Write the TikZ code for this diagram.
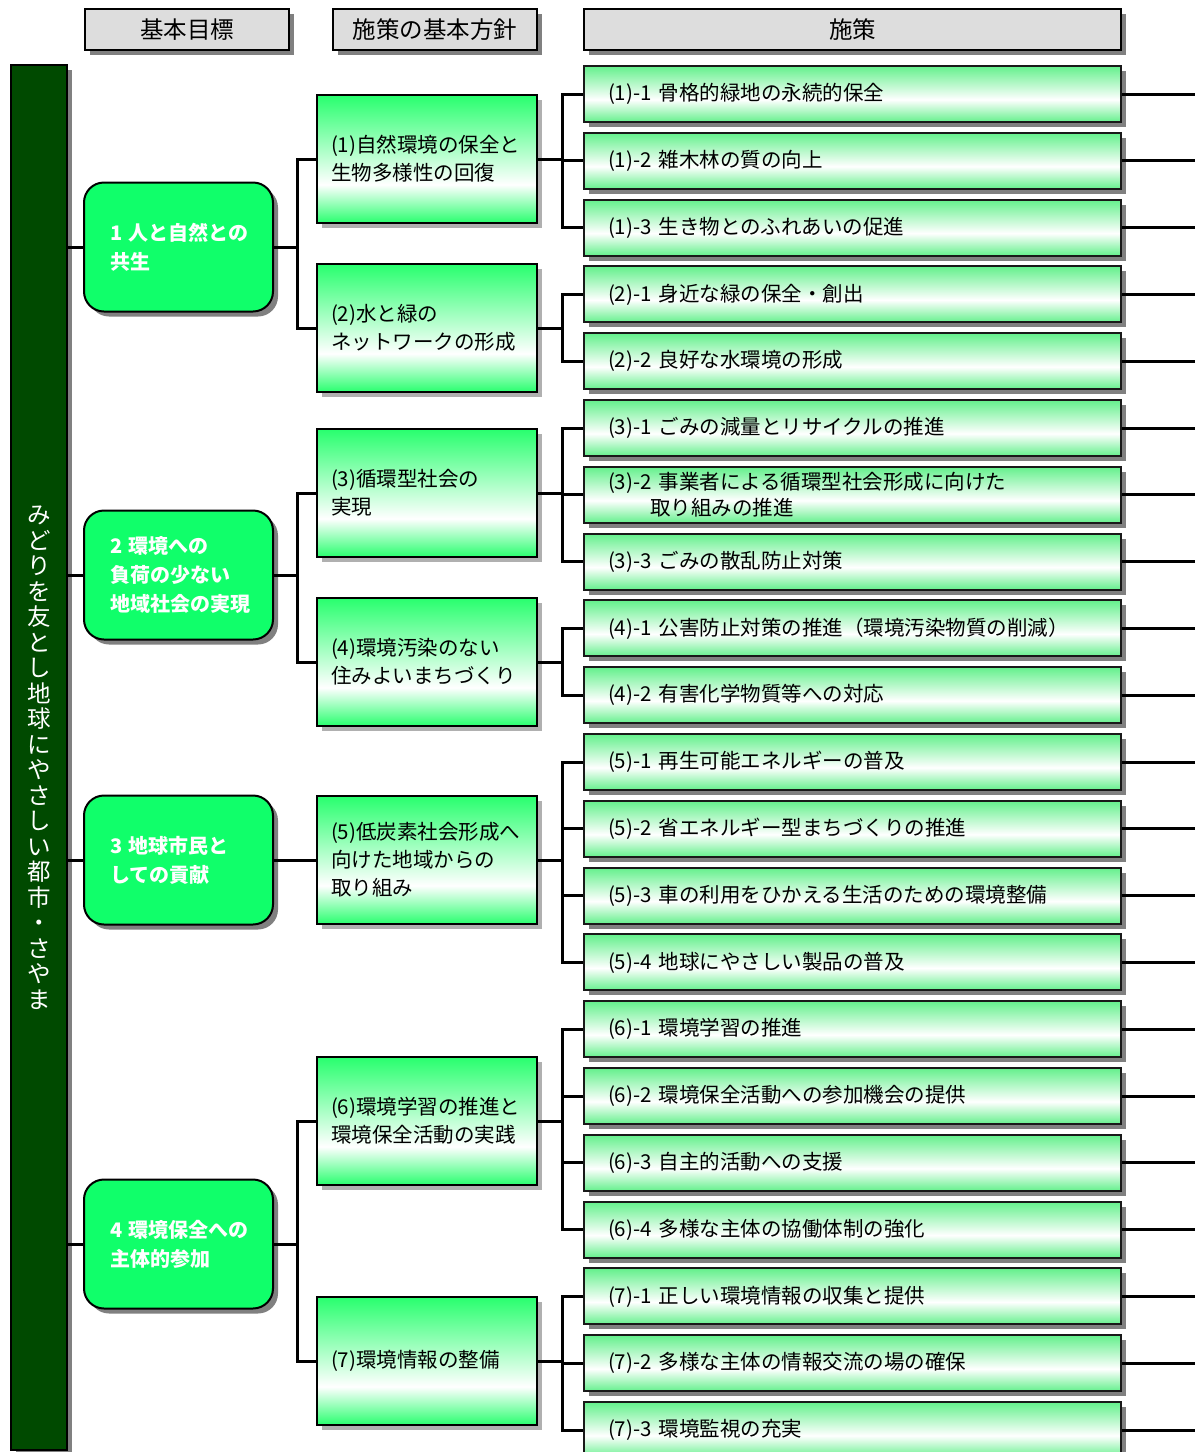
\documentclass[tikz,border=0pt]{standalone}
\usepackage{fontspec}
\setmainfont{Noto Sans CJK JP}
\usetikzlibrary{shadows,calc}
\definecolor{hdrgray}{RGB}{221,221,221}
\definecolor{shadowgray}{RGB}{128,128,128}
\definecolor{polshadow}{RGB}{176,176,176}
\definecolor{bargreen}{RGB}{0,74,0}
\definecolor{goalgreen}{RGB}{16,255,106}
\definecolor{polg}{RGB}{40,255,110}
\definecolor{meag}{RGB}{100,240,140}
\pgfdeclareverticalshading{polshade}{100bp}{color(0bp)=(polg); color(25bp)=(polg); color(40bp)=(white); color(75bp)=(polg); color(100bp)=(polg)}
\pgfdeclareverticalshading{meashade}{100bp}{color(0bp)=(meag); color(25bp)=(meag); color(45bp)=(white); color(75bp)=(meag); color(100bp)=(meag)}
\tikzset{
  conn/.style={line width=3pt, draw=black},
  shad/.style={drop shadow={shadow xshift=5pt, shadow yshift=-5pt, fill=shadowgray, opacity=1}},
  lshad/.style={drop shadow={shadow xshift=5pt, shadow yshift=-5pt, fill=polshadow, opacity=1}},
  hdr/.style={draw=black, line width=2pt, fill=hdrgray, minimum height=41pt, inner sep=0pt,
    font=\fontsize{23.5}{26}\selectfont, shad},
  bar/.style={draw=black, line width=2pt, fill=bargreen, minimum width=56pt, minimum height=1385pt, inner sep=0pt, shad},
  bartext/.style={text=white, align=center, inner sep=0pt, font=\fontsize{23.5}{25.5}\selectfont},
  goal/.style={draw=black, line width=2pt, fill=goalgreen, rounded corners=20pt, minimum height=129pt,
    text width=137pt, inner xsep=26pt, align=left, text=white,
    font=\fontsize{20}{29}\selectfont\bfseries, shad},
  pol/.style={draw=black, line width=2pt, shading=polshade, minimum height=128pt,
    text width=192pt, inner xsep=14pt, align=left, font=\fontsize{20.5}{28}\selectfont, lshad},
  mea/.style={draw=black!90, line width=2pt, shading=meashade, minimum height=56pt,
    text width=489pt, inner xsep=24pt, align=left, font=\fontsize{20.5}{26}\selectfont, shad},
}
\begin{document}
\begin{tikzpicture}[x=1pt,y=-1pt]
\useasboundingbox (0,0) rectangle (1197,1452);
% headers
\node[hdr, minimum width=204pt] (h1) at (187,29.5) {基本目標};
\node[hdr, minimum width=204pt] (h2) at (435,29.5) {施策の基本方針};
\node[hdr, minimum width=537pt] (h3) at (852.5,29.5) {施策};
% left bar
\node[bar] (bar) at (39,757.5) {};
\node[bartext] (bart) at (bar.center) {み\\ど\\り\\を\\友\\と\\し\\地\\球\\に\\や\\さ\\し\\い\\都\\市\\・\\さ\\や\\ま};
% goals
\node[goal] (g1) at (178.5,247) {1~人と自然との\\共生};
\node[goal] (g2) at (178.5,575) {2~環境への\\負荷の少ない\\地域社会の実現};
\node[goal] (g3) at (178.5,860) {3~地球市民と\\しての貢献};
\node[goal] (g4) at (178.5,1244) {4~環境保全への\\主体的参加};
% policies
\node[pol] (p1) at (427,159) {(1)自然環境の保全と\\生物多様性の回復};
\node[pol] (p2) at (427,328) {(2)水と緑の\\ネットワークの形成};
\node[pol] (p3) at (427,493) {(3)循環型社会の\\実現};
\node[pol] (p4) at (427,662) {(4)環境汚染のない\\住みよいまちづくり};
\node[pol] (p5) at (427,860) {(5)低炭素社会形成へ\\向けた地域からの\\取り組み};
\node[pol] (p6) at (427,1121) {(6)環境学習の推進と\\環境保全活動の実践};
\node[pol] (p7) at (427,1361) {(7)環境情報の整備};
% measures
\node[mea] (m1) at (852.5,94) {(1)-1 骨格的緑地の永続的保全};
\node[mea] (m2) at (852.5,160.8) {(1)-2 雑木林の質の向上};
\node[mea] (m3) at (852.5,227.6) {(1)-3 生き物とのふれあいの促進};
\node[mea] (m4) at (852.5,294.4) {(2)-1 身近な緑の保全・創出};
\node[mea] (m5) at (852.5,361.2) {(2)-2 良好な水環境の形成};
\node[mea] (m6) at (852.5,428) {(3)-1 ごみの減量とリサイクルの推進};
\node[mea] (m7) at (852.5,494.8) {(3)-2 事業者による循環型社会形成に向けた\\\hspace*{42pt}取り組みの推進};
\node[mea] (m8) at (852.5,561.6) {(3)-3 ごみの散乱防止対策};
\node[mea] (m9) at (852.5,628.4) {(4)-1 公害防止対策の推進（環境汚染物質の削減）};
\node[mea] (m10) at (852.5,695.2) {(4)-2 有害化学物質等への対応};
\node[mea] (m11) at (852.5,762) {(5)-1 再生可能エネルギーの普及};
\node[mea] (m12) at (852.5,828.8) {(5)-2 省エネルギー型まちづくりの推進};
\node[mea] (m13) at (852.5,895.6) {(5)-3 車の利用をひかえる生活のための環境整備};
\node[mea] (m14) at (852.5,962.4) {(5)-4 地球にやさしい製品の普及};
\node[mea] (m15) at (852.5,1029.2) {(6)-1 環境学習の推進};
\node[mea] (m16) at (852.5,1096) {(6)-2 環境保全活動への参加機会の提供};
\node[mea] (m17) at (852.5,1162.8) {(6)-3 自主的活動への支援};
\node[mea] (m18) at (852.5,1229.6) {(6)-4 多様な主体の協働体制の強化};
\node[mea] (m19) at (852.5,1296.4) {(7)-1 正しい環境情報の収集と提供};
\node[mea] (m20) at (852.5,1363.2) {(7)-2 多様な主体の情報交流の場の確保};
\node[mea] (m21) at (852.5,1430) {(7)-3 環境監視の充実};
\coordinate (rightend) at (1195,0);
% bar to goals
\foreach \g in {g1,g2,g3,g4} \draw[conn] (\g.west -| bar.east) -- (\g.west);
% goals to policies
\foreach \g/\p in {g1/p1,g1/p2,g2/p3,g2/p4,g3/p5,g4/p6,g4/p7}
  \draw[conn] (\g.east) -- ++(23,0) |- (\p.west);
% policies to measures
\foreach \p/\m in {p1/m1,p1/m2,p1/m3,p2/m4,p2/m5,p3/m6,p3/m7,p3/m8,p4/m9,p4/m10,
  p5/m11,p5/m12,p5/m13,p5/m14,p6/m15,p6/m16,p6/m17,p6/m18,p7/m19,p7/m20,p7/m21}
  \draw[conn] (\p.east) -- ++(24,0) |- (\m.west);
% measures to right edge
\foreach \m in {m1,m2,m3,m4,m5,m6,m7,m8,m9,m10,m11,m12,m13,m14,m15,m16,m17,m18,m19,m20,m21}
  \draw[conn] (\m.east) -- (\m.east -| rightend);
\end{tikzpicture}
\end{document}
